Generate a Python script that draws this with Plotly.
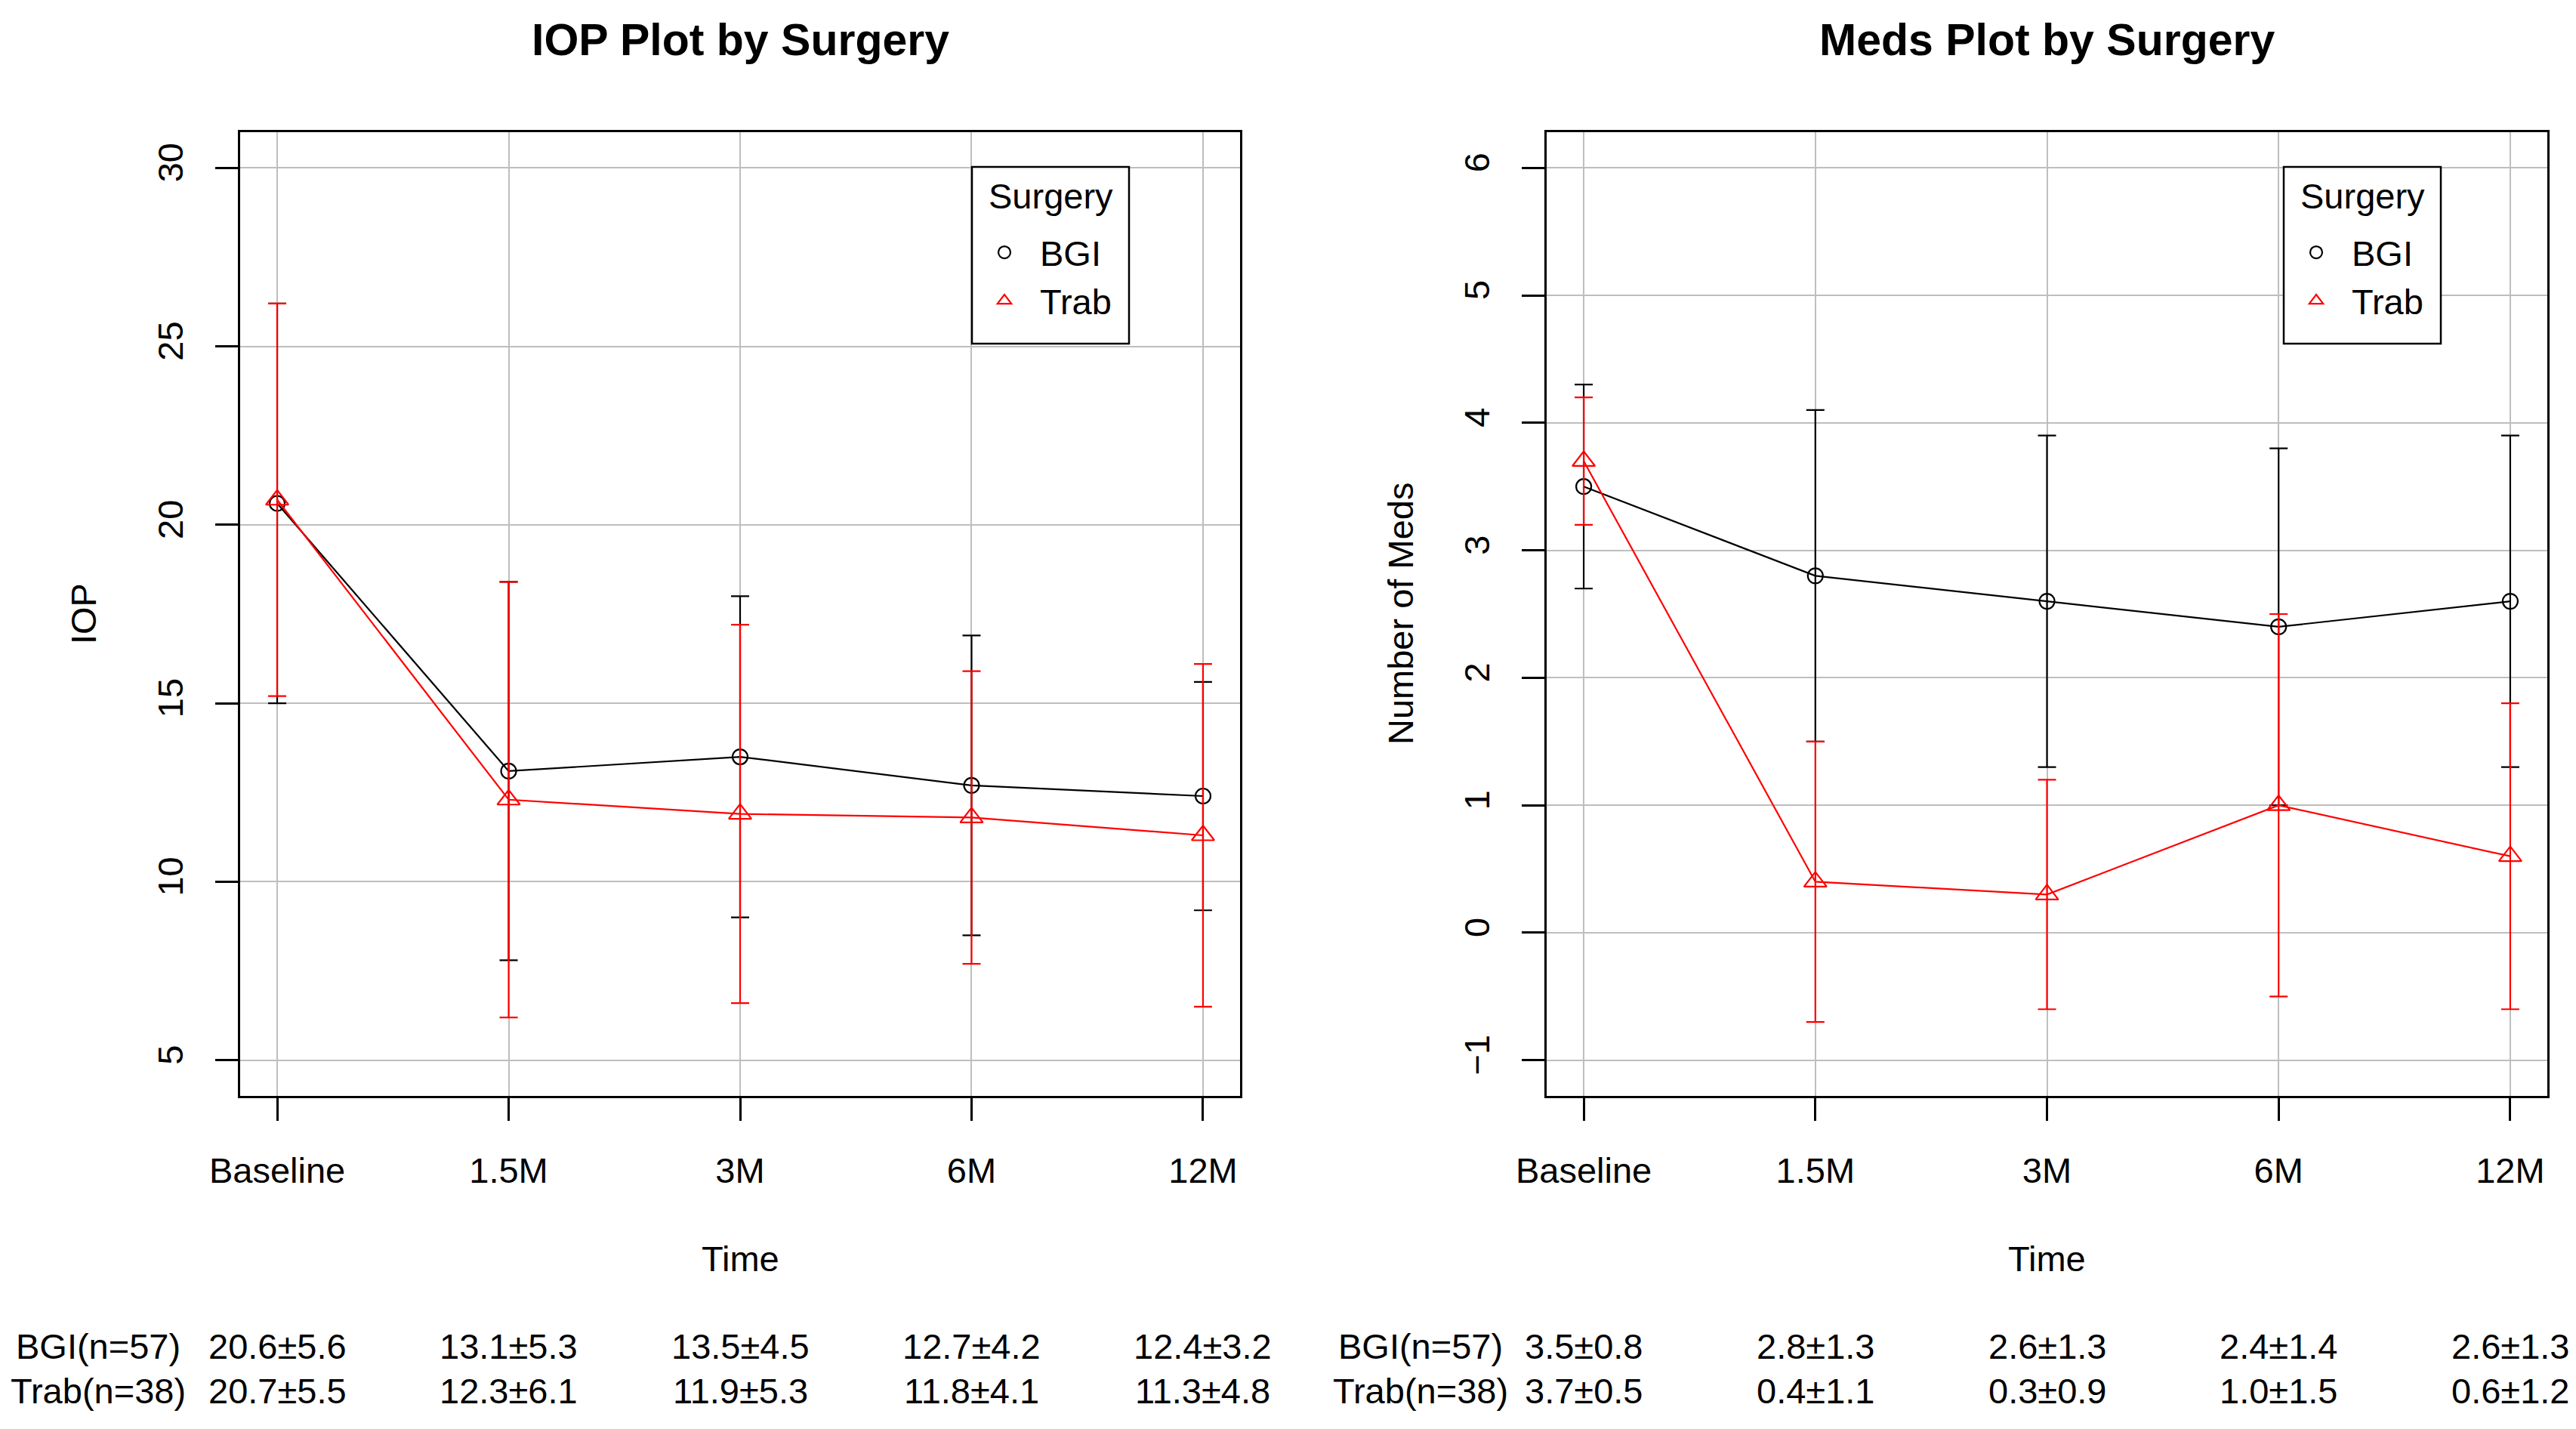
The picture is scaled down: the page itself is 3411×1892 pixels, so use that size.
import plotly.graph_objects as go

# ---------------- data ----------------
times = ["Baseline", "1.5M", "3M", "6M", "12M"]
groups = ["BGI", "Trab"]
group_n = [57, 38]

iop_bgi_mean = [20.6, 13.1, 13.5, 12.7, 12.4]
iop_bgi_sd = [5.6, 5.3, 4.5, 4.2, 3.2]
iop_trab_mean = [20.7, 12.3, 11.9, 11.8, 11.3]
iop_trab_sd = [5.5, 6.1, 5.3, 4.1, 4.8]

meds_bgi_mean = [3.5, 2.8, 2.6, 2.4, 2.6]
meds_bgi_sd = [0.8, 1.3, 1.3, 1.4, 1.3]
meds_trab_mean = [3.7, 0.4, 0.3, 1.0, 0.6]
meds_trab_sd = [0.5, 1.1, 0.9, 1.5, 1.2]

iop_ticks = [5, 10, 15, 20, 25, 30]
meds_ticks = [-1, 0, 1, 2, 3, 4, 5, 6]

# ---------------- style ----------------
W, H = 3411, 1892
FONT = "Liberation Sans, Arial, sans-serif"
FS = 47
colors = {"BGI": "black", "Trab": "red"}
symbols = {"BGI": "circle-open", "Trab": "triangle-up-open"}
msize = {"BGI": 20, "Trab": 26}


def px_x(p):
    return p / W


def px_y(p):
    return 1 - p / H


left_dom = [px_x(310), px_x(1634)]
right_dom = [px_x(2040), px_x(3365)]
y_dom = [px_y(1443), px_y(167)]

fig = go.Figure()

panels = [
    ("x", "y", "legend", [(iop_bgi_mean, iop_bgi_sd), (iop_trab_mean, iop_trab_sd)]),
    ("x2", "y2", "legend2", [(meds_bgi_mean, meds_bgi_sd), (meds_trab_mean, meds_trab_sd)]),
]

for xa, ya, leg, series in panels:
    for g, (m, s) in zip(groups, series):
        fig.add_trace(go.Scatter(
            x=times, y=m, xaxis=xa, yaxis=ya, mode="lines",
            line=dict(color=colors[g], width=2.2), showlegend=False,
            hoverinfo="skip"))
        fig.add_trace(go.Scatter(
            x=times, y=m, xaxis=xa, yaxis=ya, mode="markers", name=g,
            legend=leg,
            marker=dict(symbol=symbols[g], size=msize[g], color=colors[g],
                        line=dict(width=2.2, color=colors[g])),
            error_y=dict(type="data", array=s, symmetric=True,
                         color=colors[g], thickness=2.2, width=12)))

axis_common = dict(
    showline=True, mirror=True, linecolor="black", linewidth=2.5,
    showgrid=True, gridcolor="#BEBEBE", gridwidth=2,
    ticks="outside", ticklen=30, tickwidth=2.5, tickcolor="black",
    zeroline=False, tickfont=dict(family=FONT, size=FS, color="black"),
    automargin=False, fixedrange=True,
)

# legend boxes (pixel extents) for each panel
legend_boxes = [(1279, 1487), (3016, 3224)]
LEG_TOP, LEG_BOT = 213, 447

legend_common = dict(xanchor="left", yanchor="top",
                     bgcolor="rgba(0,0,0,0)", borderwidth=0,
                     font=dict(family=FONT, size=FS, color="black"),
                     itemwidth=84)

fig.update_layout(
    width=W, height=H,
    margin=dict(l=0, r=0, t=0, b=0),
    paper_bgcolor="white", plot_bgcolor="white",
    font=dict(family=FONT, size=FS, color="black"),
    xaxis=dict(domain=left_dom, anchor="y", type="category",
               range=[-0.16, 4.16], ticklabelstandoff=26, **axis_common),
    yaxis=dict(domain=y_dom, anchor="x", range=[4, 31], tickvals=iop_ticks,
               tickangle=-90, ticklabelstandoff=24, **axis_common),
    xaxis2=dict(domain=right_dom, anchor="y2", type="category",
                range=[-0.16, 4.16], ticklabelstandoff=26, **axis_common),
    yaxis2=dict(domain=y_dom, anchor="x2", range=[-1.28, 6.28], tickvals=meds_ticks,
                tickangle=-90, ticklabelstandoff=24, **axis_common),
    legend=dict(x=px_x(legend_boxes[0][0] - 4), y=px_y(289), **legend_common),
    legend2=dict(x=px_x(legend_boxes[1][0] - 4), y=px_y(289), **legend_common),
    showlegend=True,
)

shapes = []
annotations = []
for (bx0, bx1) in legend_boxes:
    shapes.append(dict(type="rect", xref="paper", yref="paper", layer="above",
                       x0=px_x(bx0), x1=px_x(bx1), y0=px_y(LEG_BOT), y1=px_y(LEG_TOP),
                       fillcolor="white", line=dict(color="black", width=2.5)))
    annotations.append(dict(text="Surgery", xref="paper", yref="paper",
                            x=px_x((bx0 + bx1) / 2), y=px_y(251), xanchor="center",
                            yanchor="middle", showarrow=False,
                            font=dict(family=FONT, size=FS, color="black")))

# Panel titles and x-axis titles
for dom, txt in [(left_dom, "IOP Plot by Surgery"), (right_dom, "Meds Plot by Surgery")]:
    annotations.append(dict(text="<b>%s</b>" % txt, xref="paper", yref="paper",
                            x=(dom[0] + dom[1]) / 2, y=px_y(45), xanchor="center",
                            yanchor="middle", showarrow=False,
                            font=dict(family=FONT, size=59, color="black")))
    annotations.append(dict(text="Time", xref="paper", yref="paper",
                            x=(dom[0] + dom[1]) / 2, y=px_y(1658), xanchor="center",
                            yanchor="middle", showarrow=False,
                            font=dict(family=FONT, size=FS, color="black")))
# Y axis titles
for xp, txt in [(102, "IOP"), (1846, "Number of Meds")]:
    annotations.append(dict(text=txt, xref="paper", yref="paper",
                            x=px_x(xp), y=(y_dom[0] + y_dom[1]) / 2, textangle=-90,
                            xanchor="center", yanchor="middle", showarrow=False,
                            font=dict(family=FONT, size=FS, color="black")))

# Summary table under each panel
table_rows_y = [px_y(1774), px_y(1833)]
panel_tables = [
    ("x", 122, [(iop_bgi_mean, iop_bgi_sd), (iop_trab_mean, iop_trab_sd)]),
    ("x2", 1873, [(meds_bgi_mean, meds_bgi_sd), (meds_trab_mean, meds_trab_sd)]),
]
for xa, label_px, series in panel_tables:
    for row_y, g, n, (m, s) in zip(table_rows_y, groups, group_n, series):
        annotations.append(dict(text="%s(n=%d)" % (g, n), xref="paper", yref="paper",
                                x=px_x(label_px), y=row_y, xanchor="center",
                                yanchor="middle", showarrow=False,
                                font=dict(family=FONT, size=FS, color="black")))
        for t, mv, sv in zip(times, m, s):
            annotations.append(dict(text="%.1f\u00b1%.1f" % (mv, sv), xref=xa,
                                    yref="paper", x=t, y=row_y, xanchor="center",
                                    yanchor="middle", showarrow=False,
                                    font=dict(family=FONT, size=FS, color="black")))

fig.update_layout(annotations=annotations, shapes=shapes)

fig.write_html("out.html")
